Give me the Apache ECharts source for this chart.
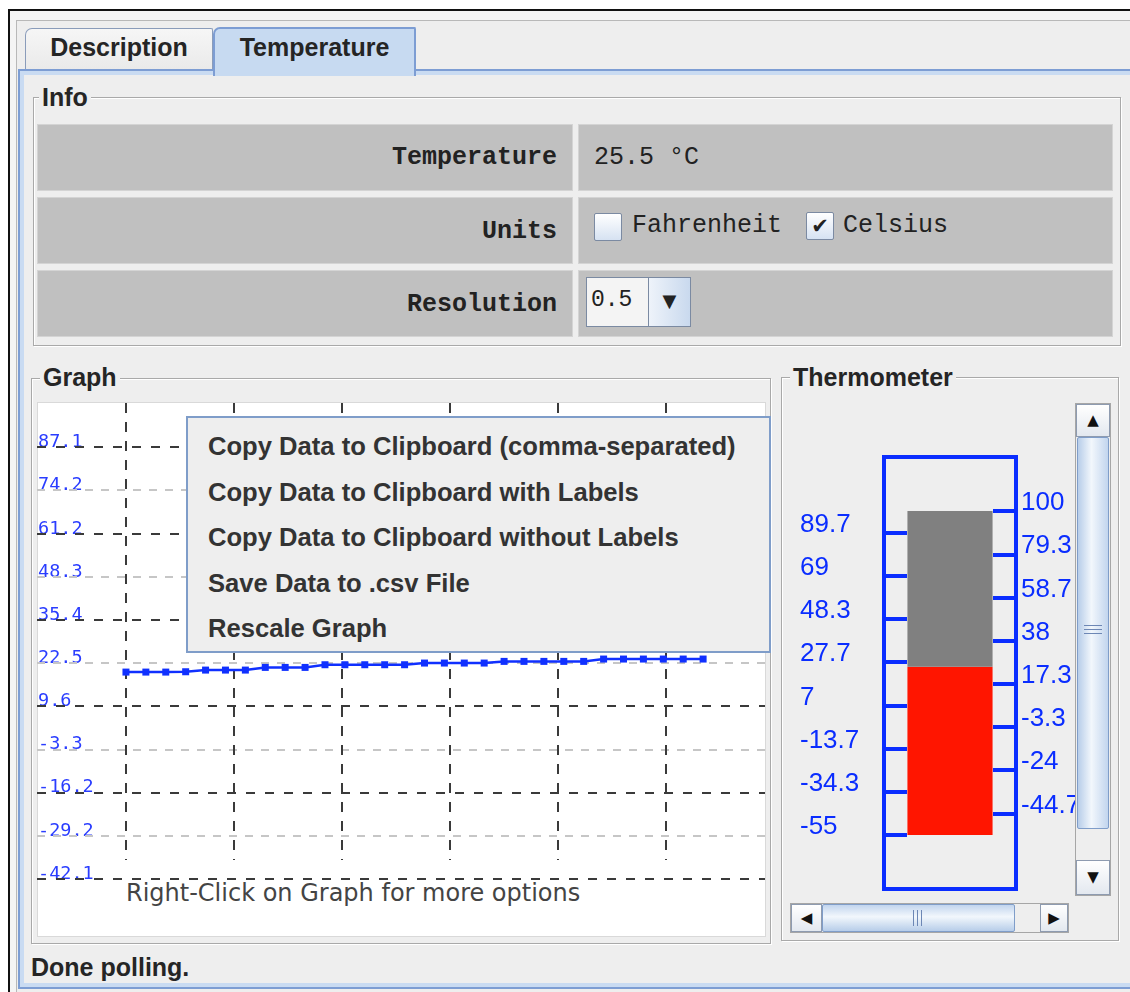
<!DOCTYPE html>
<html><head><meta charset="utf-8">
<script src="https://cdn.jsdelivr.net/npm/echarts@6/dist/echarts.min.js"></script>
<style>
html,body{margin:0;padding:0;background:#fff;width:1130px;height:992px;overflow:hidden;font-family:"Liberation Sans",Arial,sans-serif;}
.a{position:absolute;box-sizing:border-box;}
.bold{font-weight:bold;color:#252525;font-size:25px;line-height:30px;white-space:nowrap;}
.etched{border:1px solid #a9a9a9;box-shadow:1px 1px 0 #fff, inset 1px 1px 0 #fff;}
.title{background:#eeeeee;padding:0 3px;}
.cell{background:#c0c0c0;border:1px solid #d4d4d4;}
.mono{font-family:"Liberation Mono","DejaVu Sans Mono",monospace;font-size:25px;color:#222;white-space:nowrap;line-height:30px;}
.btn{background:linear-gradient(#ffffff,#e3e8ef);border:1px solid #8e9bb0;color:#111;text-align:center;}
#chart{position:absolute;left:0;top:0;width:1130px;height:992px;z-index:1;}
.top{z-index:2;}
.mi{font-weight:bold;font-size:25.6px;line-height:45.5px;color:#333;white-space:nowrap;}
</style></head><body>
<!-- window frame -->
<div class="a" style="left:8px;top:9px;width:1140px;height:1000px;border-left:2px solid #111;border-top:2px solid #111;background:#f4f4f4;"></div>
<div class="a" style="left:16px;top:20px;width:1130px;height:980px;border-left:1px solid #b8b8b8;border-top:1px solid #b8b8b8;background:#eeeeee;"></div>
<!-- tabs -->
<div class="a" style="left:25px;top:28px;width:188px;height:44px;background:linear-gradient(#f6f6f6,#e9e9e9);border:1px solid #8a9cba;border-bottom:none;border-radius:7px 2px 0 0;"></div>
<div class="a bold" style="left:25px;top:32px;width:188px;text-align:center;">Description</div>
<!-- content panel -->
<div class="a" style="left:18px;top:69px;width:1130px;height:920px;border:2px solid #7d9dd3;box-shadow:inset 0 0 0 4px #c9dbf2;background:#eeeeee;"></div>
<div class="a" style="left:213px;top:27px;width:203px;height:49px;background:#c7daf1;border:2px solid #7d9dd3;border-bottom:none;border-radius:7px 2px 0 0;"></div>
<div class="a bold" style="left:213px;top:32px;width:203px;text-align:center;">Temperature</div>

<!-- Info -->
<div class="a etched" style="left:33px;top:97px;width:1088px;height:249px;"></div>
<div class="a bold title" style="left:39px;top:82px;">Info</div>
<div class="a cell" style="left:37px;top:124px;width:536px;height:67px;"></div>
<div class="a cell" style="left:578px;top:124px;width:535px;height:67px;"></div>
<div class="a cell" style="left:37px;top:197px;width:536px;height:67px;"></div>
<div class="a cell" style="left:578px;top:197px;width:535px;height:67px;"></div>
<div class="a cell" style="left:37px;top:270px;width:536px;height:67px;"></div>
<div class="a cell" style="left:578px;top:270px;width:535px;height:67px;"></div>
<div class="a mono" style="right:573px;top:143px;font-weight:bold;">Temperature</div>
<div class="a mono" style="right:573px;top:217px;font-weight:bold;">Units</div>
<div class="a mono" style="right:573px;top:290px;font-weight:bold;">Resolution</div>
<div class="a mono" style="left:594px;top:143px;">25.5 °C</div>
<div class="a" style="left:594px;top:213px;width:28px;height:28px;border:1px solid #7b8aa2;border-radius:2px;background:linear-gradient(#ffffff,#d6e2f2);"></div>
<div class="a mono" style="left:632px;top:211px;">Fahrenheit</div>
<div class="a" style="left:806px;top:212px;width:28px;height:28px;border:1px solid #7b8aa2;border-radius:2px;background:linear-gradient(#ffffff,#d6e2f2);font-family:'DejaVu Sans';font-size:21px;line-height:26px;text-align:center;color:#222;">✔</div>
<div class="a mono" style="left:843px;top:211px;">Celsius</div>
<div class="a" style="left:586px;top:277px;width:105px;height:50px;border:1px solid #7b8aa2;background:#f4f4f4;"></div>
<div class="a mono" style="left:591px;top:285px;font-size:23px;">0.5</div>
<div class="a" style="left:648px;top:278px;width:42px;height:48px;border-left:1px solid #7b8aa2;background:linear-gradient(to right,#eef3fa,#c9d9ee);font-family:'DejaVu Sans';font-size:18px;line-height:46px;text-align:center;color:#222;">▼</div>

<!-- Graph panel -->
<div class="a etched" style="left:31px;top:378px;width:740px;height:566px;"></div>
<div class="a bold title" style="left:40px;top:362px;">Graph</div>
<div class="a" style="left:37px;top:402px;width:729px;height:535px;background:#fff;border:1px solid #d9d9d9;"></div>
<div class="a" style="left:126px;top:878px;font-family:'DejaVu Sans';font-size:24px;line-height:30px;color:#444;white-space:nowrap;">Right-Click on Graph for more options</div>

<!-- Thermometer panel -->
<div class="a etched" style="left:781px;top:377px;width:338px;height:564px;"></div>
<div class="a bold title" style="left:790px;top:362px;">Thermometer</div>

<div id="chart"></div>

<!-- scrollbars -->
<div class="a top" style="left:1075px;top:403px;width:36px;height:493px;border:1px solid #a6a6a6;background:#eeeeee;"></div>
<div class="a top btn" style="left:1076px;top:404px;width:34px;height:33px;font-family:'DejaVu Sans';font-size:15px;line-height:31px;">▲</div>
<div class="a top" style="left:1077px;top:437px;width:32px;height:392px;border:1px solid #7f9dc9;border-radius:2px;background:linear-gradient(to right,#b7cde9,#f2f7fc 45%,#c2d5ee);"></div>
<div class="a top" style="left:1084px;top:625px;width:18px;height:9px;border-top:1px solid #6d87b5;border-bottom:1px solid #6d87b5;"></div>
<div class="a top" style="left:1084px;top:629px;width:18px;height:1px;background:#6d87b5;"></div>
<div class="a top btn" style="left:1076px;top:860px;width:34px;height:35px;font-family:'DejaVu Sans';font-size:15px;line-height:33px;">▼</div>

<div class="a top" style="left:790px;top:903px;width:279px;height:30px;border:1px solid #a6a6a6;background:#eeeeee;"></div>
<div class="a top btn" style="left:791px;top:904px;width:31px;height:28px;font-family:'DejaVu Sans';font-size:15px;line-height:26px;">◀</div>
<div class="a top" style="left:822px;top:904px;width:193px;height:28px;border:1px solid #7f9dc9;border-radius:2px;background:linear-gradient(#c2d5ee,#f2f7fc 45%,#b7cde9);"></div>
<div class="a top" style="left:913px;top:910px;width:9px;height:16px;border-left:1px solid #6d87b5;border-right:1px solid #6d87b5;"></div>
<div class="a top" style="left:917px;top:910px;width:1px;height:16px;background:#6d87b5;"></div>
<div class="a top btn" style="left:1040px;top:904px;width:28px;height:28px;font-family:'DejaVu Sans';font-size:15px;line-height:26px;">▶</div>

<!-- popup menu -->
<div class="a top" style="left:186px;top:416px;width:585px;height:237px;background:#eeeeee;border:2px solid #7f9dc9;padding:6px 0 0 20px;">
<div class="mi">Copy Data to Clipboard (comma-separated)</div>
<div class="mi">Copy Data to Clipboard with Labels</div>
<div class="mi">Copy Data to Clipboard without Labels</div>
<div class="mi">Save Data to .csv File</div>
<div class="mi">Rescale Graph</div>
</div>

<div class="a bold" style="left:31px;top:952px;">Done polling.</div>

<script>
// ---- Graph data ----
const sampleIndex = [0,1,2,3,4,5,6,7,8,9,10,11,12,13,14,15,16,17,18,19,20,21,22,23,24,25,26,27,28,29];
const graphTemps = [19.8,19.8,19.8,19.9,20.4,20.4,20.4,21.2,21.2,21.2,22.0,22.0,22.0,22.0,22.0,22.5,22.5,22.5,22.5,23.0,23.0,23.0,23.0,23.0,23.7,23.7,23.7,23.7,23.7,23.7];
const graphTicks = [87.1,74.2,61.2,48.3,35.4,22.5,9.6,-3.3,-16.2,-29.2,-42.1];
const graphMajorTicks = [87.1,61.2,35.4,9.6,-16.2,-42.1];
const timeGridTicks = [0,5.43,10.85,16.28,21.71,27.14];

// ---- Thermometer data ----
const thermoValue = 25.5;
const thermoMin = -55;
const thermoMax = 100;
const thermoLeftTicks = [89.7,69,48.3,27.7,7,-13.7,-34.3,-55];
const thermoRightTicks = [100,79.3,58.7,38,17.3,-3.3,-24,-44.7];

const chart = echarts.init(document.getElementById('chart'), null, {renderer:'canvas'});
const lineBlue = '#1030ff';
const thermoBlue = '#0a2dff';
const yTop = 100.3, yMin = -42.1, vLineEnd = -36.4;

const hLines = graphTicks.map(v => ({
  yAxis: v,
  lineStyle: graphMajorTicks.includes(v)
    ? {color:'#3a3a3a', width:2, type:[9,10]}
    : {color:'#c6c6c6', width:2, type:[8,8]}
}));
const vLines = timeGridTicks.map(t => [
  {coord:[t, yTop], lineStyle:{color:'#3a3a3a', width:2, type:[10,9]}},
  {coord:[t, vLineEnd]}
]);

const option = {
  animation:false,
  grid:[
    {left:37, top:403, width:728, height:476, outerBoundsMode:'none'},
    {left:884, top:511, width:132, height:324, outerBoundsMode:'none'}
  ],
  xAxis:[
    {type:'value', gridIndex:0, min:-4.47, max:32.11, show:false},
    {type:'category', gridIndex:1, data:['T'], show:false}
  ],
  yAxis:[
    {type:'value', gridIndex:0, min:yMin, max:yTop,
     axisLine:{show:false}, axisTick:{show:false}, splitLine:{show:false},
     axisLabel:{inside:true, customValues:graphTicks, color:'#2a3dff', fontFamily:'DejaVu Sans Mono', fontSize:18.5,
       align:'left', verticalAlign:'bottom', lineHeight:10, margin:1}},
    {type:'value', gridIndex:1, position:'left', min:thermoMin, max:thermoMax,
     axisLine:{show:false}, splitLine:{show:false},
     axisTick:{show:true, inside:true, length:23, customValues:thermoLeftTicks, lineStyle:{color:thermoBlue, width:4}},
     axisLabel:{customValues:thermoLeftTicks, margin:84, align:'left', verticalAlign:'bottom', lineHeight:16,
       fontSize:26, fontFamily:'Liberation Sans', color:thermoBlue}},
    {type:'value', gridIndex:1, position:'right', min:thermoMin, max:thermoMax,
     axisLine:{show:false}, splitLine:{show:false},
     axisTick:{show:true, inside:true, length:23, customValues:thermoRightTicks, lineStyle:{color:thermoBlue, width:4}},
     axisLabel:{customValues:thermoRightTicks, margin:5, align:'left', verticalAlign:'bottom', lineHeight:16,
       fontSize:26, fontFamily:'Liberation Sans', color:thermoBlue}}
  ],
  graphic:[
    {type:'rect', z:10, shape:{x:884, y:457, width:132, height:432}, style:{fill:null, stroke:thermoBlue, lineWidth:4}}
  ],
  series:[
    {type:'line', xAxisIndex:0, yAxisIndex:0, z:1, silent:true, symbol:'none',
     data: sampleIndex.map((x,i)=>[x, graphTemps[i]]), lineStyle:{opacity:0},
     markLine:{silent:true, symbol:['none','none'], label:{show:false}, emphasis:{disabled:true},
       lineStyle:{color:'#3a3a3a', width:2, type:[9,10]}, data:[...hLines, ...vLines]}},
    {type:'line', xAxisIndex:0, yAxisIndex:0, z:5,
     data: sampleIndex.map((x,i)=>[x, graphTemps[i]]),
     symbol:'rect', symbolSize:7, showAllSymbol:true,
     lineStyle:{color:lineBlue, width:2.5}, itemStyle:{color:lineBlue}},
    {type:'custom', xAxisIndex:1, yAxisIndex:1, z:3,
     data:[[0, thermoMin, thermoValue],[0, thermoValue, thermoMax]],
     renderItem:function(params, api){
       const top = api.coord([api.value(0), api.value(2)]);
       const bot = api.coord([api.value(0), api.value(1)]);
       const w = api.size([1,0])[0]*0.645;
       return {type:'rect', shape:{x:top[0]-w/2, y:top[1], width:w, height:bot[1]-top[1]},
         style:{fill: params.dataIndex === 0 ? '#ff1500' : '#808080'}};
     }}
  ]
};
chart.setOption(option);
</script>
</body></html>
